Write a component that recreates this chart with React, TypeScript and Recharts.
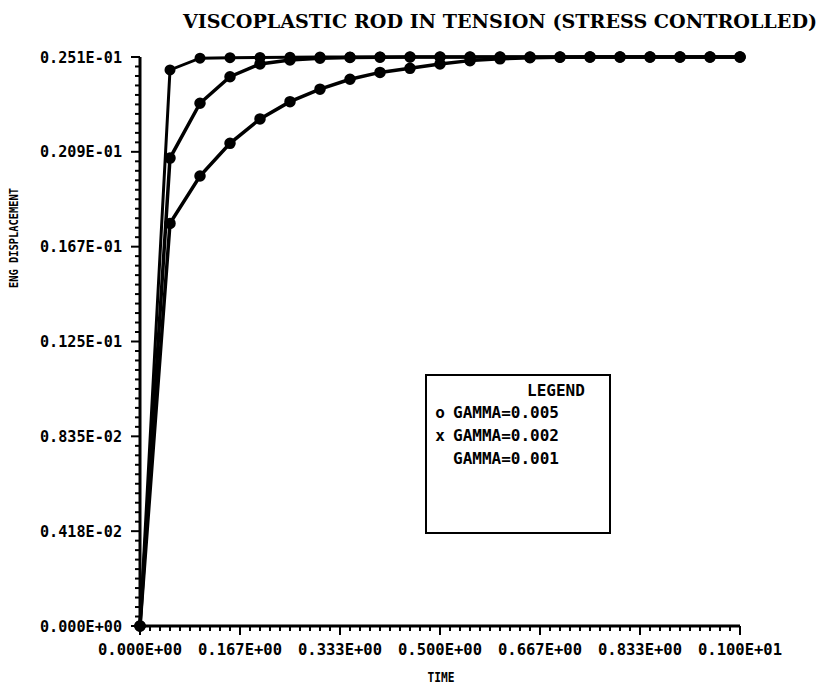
import React from 'react';
import { LineChart, Line, XAxis, YAxis, Legend } from 'recharts';

const TIME = [0, 0.05, 0.1, 0.15, 0.2, 0.25, 0.3, 0.35, 0.4, 0.45, 0.5, 0.55, 0.6, 0.65, 0.7, 0.75, 0.8, 0.85, 0.9, 0.95, 1.0];
const GAMMA_005 = [0, 0.02453, 0.02505, 0.02507, 0.02508, 0.02509, 0.0251, 0.0251, 0.0251, 0.0251, 0.0251, 0.0251, 0.0251, 0.0251, 0.0251, 0.0251, 0.0251, 0.0251, 0.0251, 0.0251, 0.0251];
const GAMMA_002 = [0, 0.02064, 0.02306, 0.02423, 0.02479, 0.02497, 0.02505, 0.02508, 0.02509, 0.0251, 0.0251, 0.0251, 0.0251, 0.0251, 0.0251, 0.0251, 0.0251, 0.0251, 0.0251, 0.0251, 0.0251];
const GAMMA_001 = [0, 0.01776, 0.01985, 0.02129, 0.02237, 0.02313, 0.02368, 0.02412, 0.02442, 0.0246, 0.02479, 0.02494, 0.02502, 0.02507, 0.02509, 0.0251, 0.0251, 0.0251, 0.0251, 0.0251, 0.0251];

const X_TICK_LABELS = ['0.000E+00', '0.167E+00', '0.333E+00', '0.500E+00', '0.667E+00', '0.833E+00', '0.100E+01'];
const Y_TICK_LABELS = ['0.000E+00', '0.418E-02', '0.835E-02', '0.125E-01', '0.167E-01', '0.209E-01', '0.251E-01'];
const SERIES_NAMES = ['GAMMA=0.005', 'GAMMA=0.002', 'GAMMA=0.001'];
const LEGEND_SYMBOLS = ['o', 'x', ''];

const Y_MAX = 0.0251;
const MINOR = 10;
const MAJORS = 6;

const data = TIME.map((t, i) => ({ t, a: GAMMA_005[i], b: GAMMA_002[i], c: GAMMA_001[i] }));

const xTicks = Array.from({ length: MAJORS * MINOR + 1 }, (_, i) => i / (MAJORS * MINOR));
const yTicks = Array.from({ length: MAJORS * MINOR + 1 }, (_, i) => (i / (MAJORS * MINOR)) * Y_MAX);

const MONO = '"DejaVu Sans Mono", monospace';

const XTick = (props: any) => {
  const { x, y, index } = props;
  const major = index % MINOR === 0;
  return (
    <g>
      <line x1={x} x2={x} y1={y} y2={y + (major ? 9 : 5)} stroke="#000" strokeWidth={2} />
      {major && (
        <text x={x} y={y + 23} textAnchor="middle" dominantBaseline="central" textLength={84} lengthAdjust="spacingAndGlyphs" fontFamily={MONO} fontWeight="bold" fontSize={16} fill="#000">
          {X_TICK_LABELS[index / MINOR]}
        </text>
      )}
    </g>
  );
};

const YTick = (props: any) => {
  const { x, y, index } = props;
  const major = index % MINOR === 0;
  return (
    <g>
      <line x1={x} x2={x - (major ? 9 : 5)} y1={y} y2={y} stroke="#000" strokeWidth={2} />
      {major && (
        <text x={x - 18} y={y} textAnchor="end" dominantBaseline="central" textLength={82} lengthAdjust="spacingAndGlyphs" fontFamily={MONO} fontWeight="bold" fontSize={16} fill="#000">
          {Y_TICK_LABELS[index / MINOR]}
        </text>
      )}
    </g>
  );
};

const LegendBox = () => (
  <div
    style={{
      width: 186,
      height: 160,
      border: '2.5px solid #000',
      background: '#fff',
      fontFamily: MONO,
      fontWeight: 'bold',
      fontSize: 16,
      color: '#000',
      boxSizing: 'border-box',
      position: 'relative',
    }}
  >
    <div style={{ position: 'absolute', left: 100, top: 5 }}>LEGEND</div>
    {SERIES_NAMES.map((name, i) => (
      <div key={name} style={{ position: 'absolute', left: 0, top: 27 + i * 23, whiteSpace: 'pre' }}>
        <span style={{ display: 'inline-block', width: 26, textAlign: 'center' }}>{LEGEND_SYMBOLS[i]}</span>
        {name}
      </div>
    ))}
  </div>
);

export default function App() {
  return (
    <div style={{ position: 'absolute', left: 0, top: 0, background: '#fff' }}>
      <LineChart width={823} height={690} data={data} margin={{ top: 57, right: 83, bottom: 0, left: 0 }}>
        <text x={183} y={28} textLength={634} lengthAdjust="spacingAndGlyphs" fontFamily='"DejaVu Serif", serif' fontWeight="bold" fontSize={19} fill="#000">
          VISCOPLASTIC ROD IN TENSION (STRESS CONTROLLED)
        </text>
        <text x={441} y={677} textAnchor="middle" dominantBaseline="central" textLength={27} lengthAdjust="spacingAndGlyphs" fontFamily={MONO} fontWeight="bold" fontSize={14} fill="#000">
          TIME
        </text>
        <text
          x={13}
          y={238}
          transform="rotate(-90 13 238)"
          textAnchor="middle"
          dominantBaseline="central"
          textLength={100}
          lengthAdjust="spacingAndGlyphs"
          fontFamily={MONO}
          fontWeight="bold"
          fontSize={13}
          fill="#000"
        >
          ENG DISPLACEMENT
        </text>
        <XAxis
          dataKey="t"
          type="number"
          domain={[0, 1]}
          ticks={xTicks}
          interval={0}
          height={64}
          tickSize={0}
          tickMargin={0}
          tickLine={false}
          axisLine={{ stroke: '#000', strokeWidth: 3 }}
          tick={<XTick />}
        />
        <YAxis
          type="number"
          domain={[0, Y_MAX]}
          ticks={yTicks}
          interval={0}
          width={140}
          tickSize={0}
          tickMargin={0}
          tickLine={false}
          axisLine={{ stroke: '#000', strokeWidth: 3 }}
          tick={<YTick />}
        />
        <Legend
          layout="vertical"
          align="center"
          verticalAlign="middle"
          wrapperStyle={{ left: 425, top: 374, width: 186, height: 160 }}
          content={<LegendBox />}
        />
        <Line dataKey="c" name={SERIES_NAMES[2]} type="linear" stroke="#000" strokeWidth={3.5} dot={{ r: 4, fill: '#000', stroke: '#000' }} isAnimationActive={false} />
        <Line dataKey="b" name={SERIES_NAMES[1]} type="linear" stroke="#000" strokeWidth={3.5} dot={{ r: 4, fill: '#000', stroke: '#000' }} isAnimationActive={false} />
        <Line dataKey="a" name={SERIES_NAMES[0]} type="linear" stroke="#000" strokeWidth={3} dot={{ r: 4, fill: '#000', stroke: '#000' }} isAnimationActive={false} />
      </LineChart>
    </div>
  );
}
